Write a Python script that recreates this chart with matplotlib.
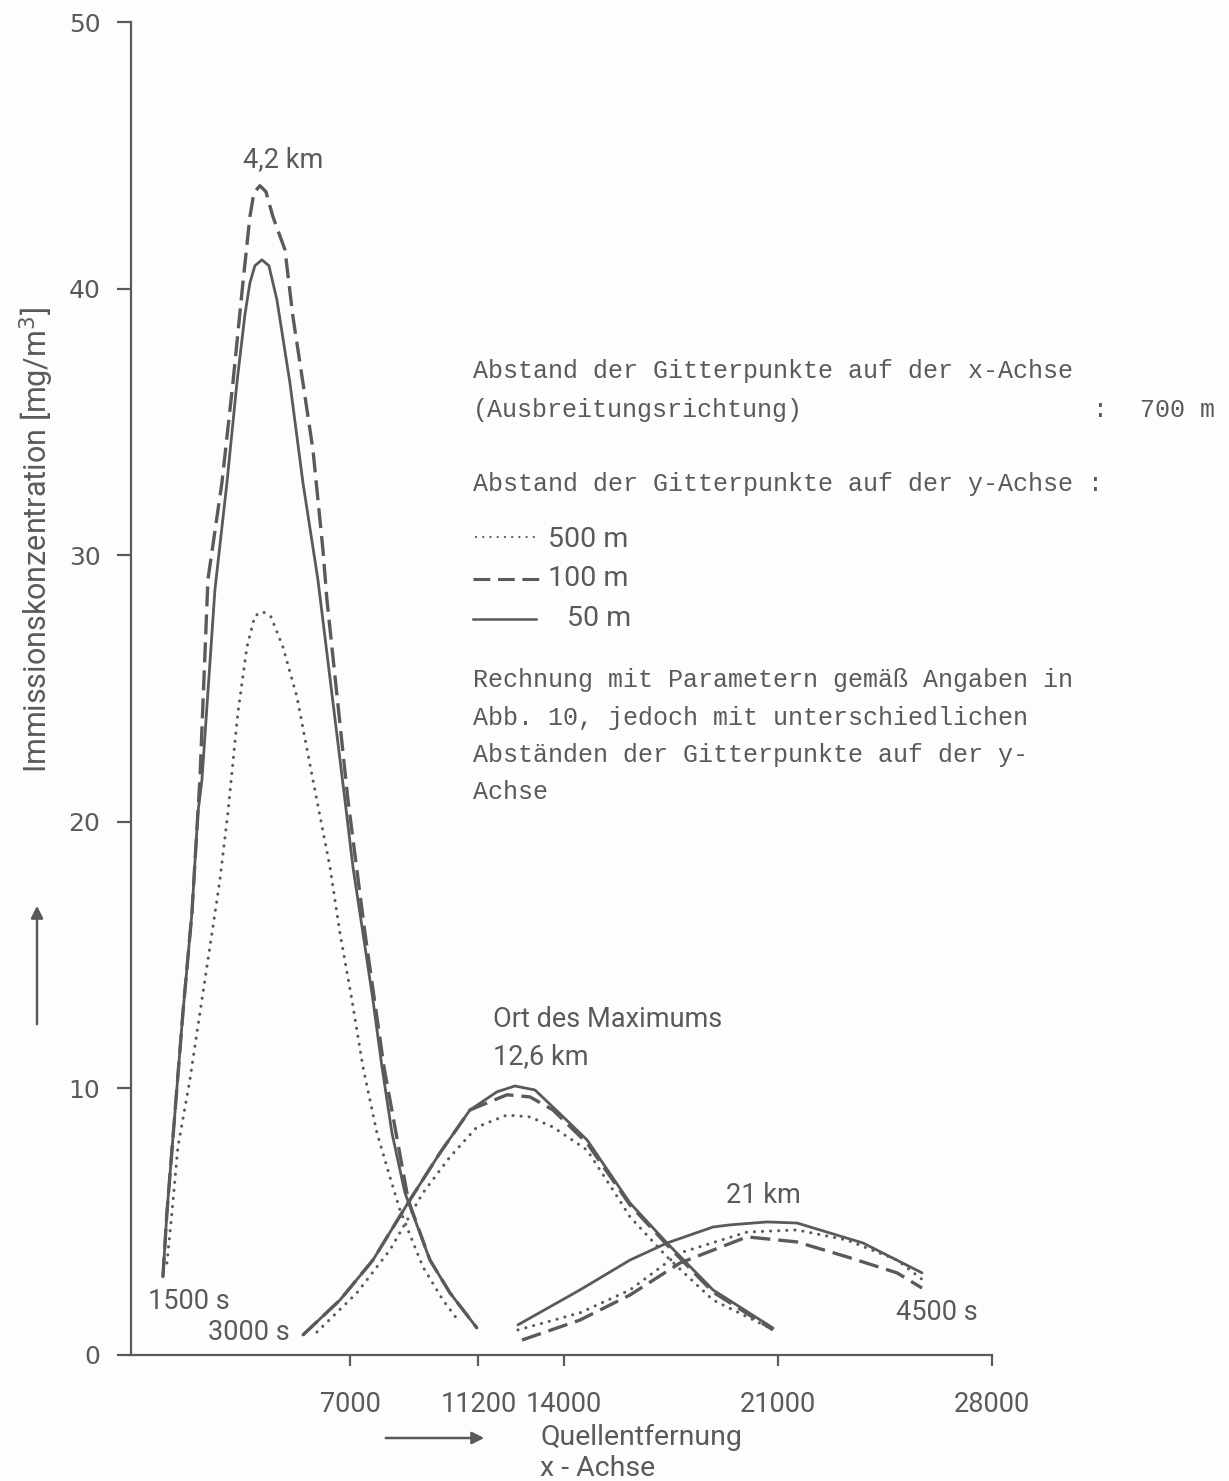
import matplotlib
matplotlib.use('Agg')
import matplotlib.pyplot as plt
from matplotlib.lines import Line2D
from matplotlib.patches import FancyArrowPatch

# ---------------- data (x in m, y in mg/m^3) ----------------
# 1500 s
x_1500_50 = [883, 1014, 1276, 1537, 1832, 2028, 2159, 2584, 2977, 3304, 3565, 3729, 3892, 4121, 4350, 4612, 5037, 5463, 5953, 6836, 7098, 7425, 7752, 8047, 8374, 8799, 9617, 10271, 11154]
y_1500_50 = [2.93, 5.33, 9.08, 12.83, 16.58, 20.34, 21.57, 28.70, 32.72, 36.47, 39.02, 40.22, 40.86, 41.08, 40.86, 39.58, 36.47, 32.72, 29.08, 20.82, 18.31, 15.83, 13.32, 10.81, 8.33, 6.08, 3.56, 2.33, 1.01]

x_1500_100 = [883, 1014, 1276, 1537, 1832, 2028, 2093, 2355, 2813, 3173, 3500, 3729, 3860, 4056, 4252, 4481, 4874, 5135, 5463, 5790, 6117, 6248, 6935, 7491, 8112, 8864, 8963, 9617, 10271, 11154]
y_1500_100 = [2.93, 5.33, 9.08, 12.83, 16.58, 20.34, 21.57, 29.08, 32.72, 36.47, 40.22, 42.70, 43.60, 43.86, 43.64, 42.70, 41.46, 38.95, 36.47, 33.96, 30.20, 28.33, 20.82, 15.83, 10.81, 6.08, 5.63, 3.56, 2.33, 1.01]

x_1500_500 = [1014, 1178, 1374, 1766, 2093, 2421, 2748, 3009, 3336, 3631, 3892, 4154, 4416, 4808, 5266, 5790, 6346, 6673, 7065, 7425, 7883, 8308, 8635, 9388, 10042, 10598]
y_1500_500 = [3.45, 5.33, 7.80, 10.32, 12.83, 15.31, 17.82, 20.34, 24.09, 26.56, 27.73, 27.88, 27.69, 26.56, 24.69, 21.57, 18.31, 15.83, 13.32, 10.81, 8.33, 6.68, 5.44, 3.30, 2.06, 1.20]

# 3000 s
x_3000_50 = [5463, 6673, 7752, 8897, 9944, 10925, 11808, 12397, 13051, 13640, 14752, 16159, 17369, 18874, 20836]
y_3000_50 = [0.75, 2.06, 3.56, 5.70, 7.58, 9.19, 9.87, 10.09, 9.94, 9.30, 8.07, 5.70, 4.20, 2.44, 1.01]

x_3000_100 = [5463, 6673, 7752, 8897, 9944, 10925, 11154, 12136, 12888, 13640, 14752, 16159, 17369, 18874, 20836]
y_3000_100 = [0.75, 2.06, 3.56, 5.70, 7.58, 9.19, 9.30, 9.76, 9.68, 9.19, 7.95, 5.63, 4.13, 2.36, 0.94]

x_3000_500 = [5921, 7229, 8308, 9388, 10271, 11154, 12136, 12888, 13640, 14752, 15603, 16159, 17369, 18874, 20738]
y_3000_500 = [0.86, 2.33, 3.94, 6.08, 7.43, 8.55, 9.00, 8.93, 8.55, 7.69, 6.19, 5.18, 3.68, 2.06, 1.01]

# 4500 s
x_4500_50 = [12495, 14523, 16159, 17369, 18874, 19430, 20640, 21621, 23780, 25710]
y_4500_50 = [1.13, 2.44, 3.56, 4.20, 4.80, 4.88, 4.99, 4.95, 4.20, 3.08]

x_4500_100 = [12626, 14523, 16159, 17794, 19986, 21621, 23257, 24893, 25710]
y_4500_100 = [0.56, 1.31, 2.25, 3.45, 4.43, 4.24, 3.68, 3.08, 2.51]

x_4500_500 = [12495, 14523, 16159, 17794, 19986, 21621, 23257, 24893, 25743]
y_4500_500 = [0.94, 1.58, 2.44, 3.83, 4.61, 4.69, 4.31, 3.56, 2.81]

x_ticks = [7000, 11200, 14000, 21000, 28000]
x_ticklabels = ['7000', '11200', '14000', '21000', '28000']
y_ticks = [0, 10, 20, 30, 40, 50]

# ---------------- styling ----------------
INK = '#5a5a5a'
BG = '#fdfdfb'
SANS = ['Roboto', 'DejaVu Sans']
MONO = ['Liberation Mono', 'DejaVu Sans Mono']

fig = plt.figure(figsize=(12.29, 14.81), dpi=100, facecolor=BG)
ax = fig.add_axes([0.1066, 0.0851, 0.7006, 0.9000], facecolor=BG)

solid_kw = dict(color=INK, lw=2.0, linestyle='-', solid_capstyle='round', solid_joinstyle='round')
dash_kw = dict(color=INK, lw=2.4, linestyle=(0, (6.0, 2.4)), dash_capstyle='butt', dash_joinstyle='round')
dot_kw = dict(color=INK, lw=2.2, linestyle=(0, (0.05, 2.6)), dash_capstyle='round')

for xs, ys in [(x_1500_50, y_1500_50), (x_3000_50, y_3000_50), (x_4500_50, y_4500_50)]:
    ax.plot(xs, ys, **solid_kw)
for xs, ys in [(x_1500_100, y_1500_100), (x_3000_100, y_3000_100), (x_4500_100, y_4500_100)]:
    ax.plot(xs, ys, **dash_kw)
for xs, ys in [(x_1500_500, y_1500_500), (x_3000_500, y_3000_500), (x_4500_500, y_4500_500)]:
    ax.plot(xs, ys, **dot_kw)

ax.set_xlim(-160, 28000)
ax.set_ylim(0, 50)
for s in ['top', 'right']:
    ax.spines[s].set_visible(False)
for s in ['left', 'bottom']:
    ax.spines[s].set_color(INK)
    ax.spines[s].set_linewidth(1.6)

ax.set_xticks(x_ticks)
ax.set_xticklabels(x_ticklabels, family=SANS, fontsize=19.5, color=INK)
ax.set_yticks(y_ticks)
ax.set_yticklabels([str(v) for v in y_ticks], family=['DejaVu Sans'], fontsize=18, color=INK)
ax.tick_params(axis='x', length=8, width=1.6, color=INK, pad=18, direction='out')
ax.tick_params(axis='y', length=10, width=1.6, color=INK, pad=12, direction='out')

# annotations in the plot
lab_kw = dict(family=SANS, fontsize=19.5, color=INK, clip_on=False)
ax.text(4808, 44.84, '4,2 km', ha='center', va='center', **lab_kw)
ax.text(11678, 12.57, 'Ort des Maximums', ha='left', va='center', **lab_kw)
ax.text(11678, 11.18, '12,6 km', ha='left', va='center', **lab_kw)
ax.text(20509, 6.0, '21 km', ha='center', va='center', **lab_kw)
ax.text(393, 1.99, '1500 s', ha='left', va='center', **lab_kw)
ax.text(2355, 0.86, '3000 s', ha='left', va='center', **lab_kw)
ax.text(27542, 1.61, '4500 s', ha='right', va='center', **lab_kw)

# axis titles
fig.text(37 / 1229, 1 - 540 / 1481, 'Immissionskonzentration [mg/m$^3$]', rotation=90,
         ha='center', va='center', family=SANS, fontsize=22, color=INK)
fig.add_artist(FancyArrowPatch((37 / 1229, 1 - 1027 / 1481), (37 / 1229, 1 - 903 / 1481),
               transform=fig.transFigure, arrowstyle='-|>', mutation_scale=18, color=INK, lw=1.8))
fig.text(541 / 1229, 1 - 1437 / 1481, 'Quellentfernung', ha='left', va='center',
         family=SANS, fontsize=20.5, color=INK)
fig.text(598 / 1229, 1 - 1468 / 1481, 'x - Achse', ha='center', va='center',
         family=SANS, fontsize=20.5, color=INK)
fig.add_artist(FancyArrowPatch((383 / 1229, 1 - 1438 / 1481), (487 / 1229, 1 - 1438 / 1481),
               transform=fig.transFigure, arrowstyle='-|>', mutation_scale=18, color=INK, lw=1.8))

# description block
mono_kw = dict(family=MONO, fontsize=18, color=INK, ha='left', va='center')
X0 = 473 / 1229


def fy(py):
    return 1 - py / 1481


fig.text(X0, fy(371), 'Abstand der Gitterpunkte auf der x-Achse', **mono_kw)
fig.text(X0, fy(410), '(Ausbreitungsrichtung)', **mono_kw)
fig.text(1093 / 1229, fy(410), ':', **mono_kw)
fig.text(1140 / 1229, fy(410), '700 m', **mono_kw)
fig.text(X0, fy(484), 'Abstand der Gitterpunkte auf der y-Achse :', **mono_kw)
fig.text(X0, fy(680), 'Rechnung mit Parametern gemäß Angaben in', **mono_kw)
fig.text(X0, fy(718), 'Abb. 10, jedoch mit unterschiedlichen', **mono_kw)
fig.text(X0, fy(755), 'Abständen der Gitterpunkte auf der y-', **mono_kw)
fig.text(X0, fy(792), 'Achse', **mono_kw)

# legend samples
leg_kw = dict(family=SANS, fontsize=20.5, color=INK, ha='left', va='center')
fig.add_artist(Line2D([476 / 1229, 538 / 1229], [fy(537), fy(537)], transform=fig.transFigure,
                      color=INK, lw=1.6, linestyle=(0, (0.05, 3.2)), dash_capstyle='round'))
fig.text(548 / 1229, fy(540), '500 m', **leg_kw)
fig.add_artist(Line2D([473 / 1229, 540 / 1229], [fy(579), fy(579)], transform=fig.transFigure,
                      color=INK, lw=2.2, linestyle=(0, (5.5, 2.5))))
fig.text(548 / 1229, fy(579), '100 m', **leg_kw)
fig.add_artist(Line2D([473 / 1229, 536 / 1229], [fy(619), fy(619)], transform=fig.transFigure,
                      color=INK, lw=1.8))
fig.text(567 / 1229, fy(619), '50 m', **leg_kw)

fig.savefig('out.png', dpi=100, facecolor=BG)
